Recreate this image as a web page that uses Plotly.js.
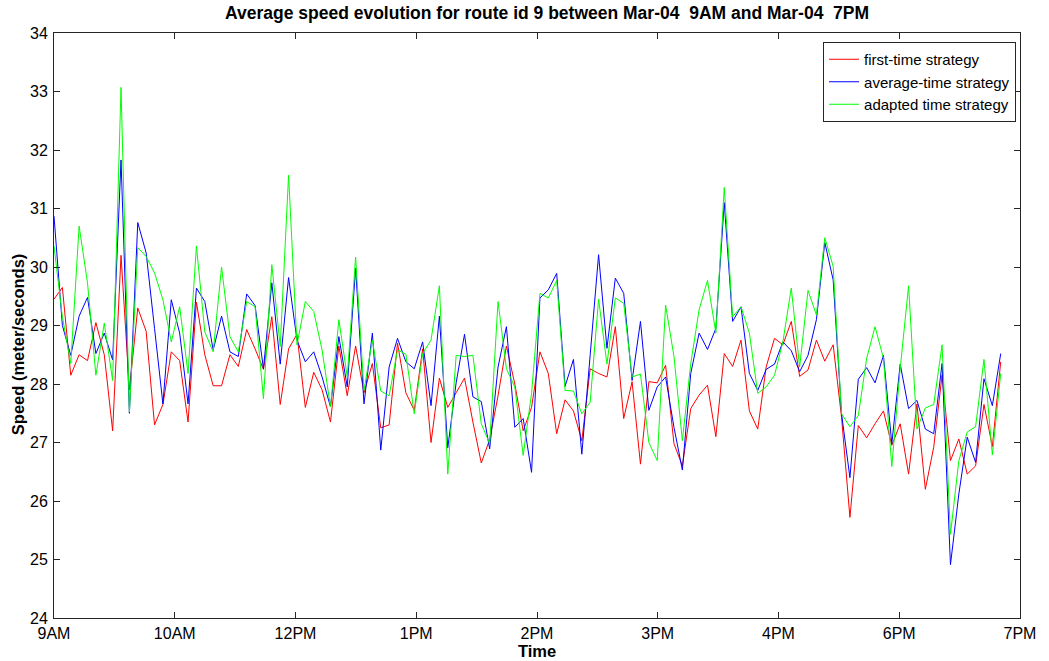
<!DOCTYPE html>
<html>
<head>
<meta charset="utf-8">
<script src="https://cdn.plot.ly/plotly-3.0.1.min.js"></script>
<style>
  html, body { margin: 0; padding: 0; background: #fff; }
  #chart { width: 1049px; height: 661px; }
</style>
</head>
<body>
<div id="chart"></div>
<script>
// ---- data ----
const tickLabels = ["9AM", "10AM", "12PM", "1PM", "2PM", "3PM", "4PM", "6PM", "7PM"];

const firstTime = [
  29.45, 29.65, 28.15, 28.5, 28.4, 29.05, 28.5, 27.2, 30.2, 27.9,
  29.3, 28.9, 27.3, 27.65, 28.55, 28.4, 27.35, 29.4, 28.5, 27.97,
  27.97, 28.5, 28.3, 28.93, 28.6, 28.25, 29.15, 27.65, 28.6, 28.85,
  27.6, 28.2, 27.9, 27.35, 28.65, 27.8, 28.65, 27.85, 28.35, 27.25,
  27.3, 28.7, 27.85, 27.55, 28.6, 27.0, 28.1, 27.6, 27.85, 28.1,
  27.35, 26.65, 27.05, 27.8, 28.65, 28.0, 27.2, 27.6, 28.55, 28.18,
  27.15, 27.73, 27.54, 27.03, 28.26, 28.18, 28.12, 28.98, 27.41, 28.04,
  26.63, 28.04, 28.02, 28.32, 26.98, 26.6, 27.58, 27.81, 27.98, 27.1,
  28.52, 28.3, 28.75, 27.54, 27.23, 28.29, 28.78, 28.67, 29.07, 28.13,
  28.24, 28.75, 28.39, 28.67, 27.43, 25.72, 27.29, 27.08, 27.32, 27.54,
  26.95, 27.32, 26.46, 27.66, 26.2, 26.92, 28.15, 26.69, 27.06, 26.46,
  26.6, 27.65, 26.93, 28.38
];

const averageTime = [
  30.87, 29.0, 28.49, 29.16, 29.48, 28.52, 28.87, 28.41, 31.83, 27.5,
  30.76, 30.24, 28.95, 27.66, 29.44, 28.87, 27.66, 29.64, 29.41, 28.58,
  29.16, 28.55, 28.47, 29.54, 29.34, 28.26, 29.73, 28.34, 29.82, 28.75,
  28.38, 28.55, 28.12, 27.61, 28.81, 27.95, 29.98, 27.66, 28.87, 26.87,
  28.29, 28.78, 28.38, 28.26, 28.72, 27.63, 29.16, 26.91, 28.02, 28.85,
  27.78, 27.7, 26.89, 28.29, 28.98, 27.26, 27.41, 26.49, 29.47, 29.61,
  29.89, 27.96, 28.42, 26.8, 28.5, 30.21, 28.61, 29.81, 29.55, 28.06,
  29.07, 27.55, 27.95, 28.12, 27.26, 26.53, 28.18, 28.87, 28.59, 28.95,
  31.1, 29.07, 29.32, 28.18, 27.89, 28.25, 28.34, 28.72, 28.57, 28.21,
  28.49, 29.1, 30.42, 29.78, 27.49, 26.4, 28.08, 28.28, 28.02, 28.49,
  26.98, 28.34, 27.58, 27.72, 27.23, 27.15, 28.35, 24.91, 26.12, 27.09,
  26.66, 28.09, 27.63, 28.52
];

const adaptedTime = [
  30.36, 29.15, 28.35, 30.7, 29.73, 28.15, 29.04, 28.06, 33.07, 27.52,
  30.33, 30.18, 29.9, 29.44, 28.72, 29.32, 28.18, 30.36, 28.89, 28.55,
  30.0, 28.81, 28.55, 29.41, 29.32, 27.75, 30.04, 28.64, 31.57, 28.67,
  29.41, 29.24, 28.58, 27.61, 29.1, 28.12, 30.17, 27.89, 28.75, 27.88,
  27.8, 28.58, 28.51, 27.49, 28.52, 28.75, 29.68, 26.46, 28.49, 28.47,
  28.49, 27.32, 26.98, 29.41, 28.26, 27.95, 26.78, 27.84, 29.55, 29.47,
  29.77, 27.89, 27.88, 27.49, 27.69, 29.45, 28.34, 29.47, 29.38, 28.12,
  28.17, 27.0, 26.69, 29.35, 28.47, 27.03, 28.35, 29.27, 29.77, 28.87,
  31.36, 29.15, 29.32, 28.87, 27.84, 27.95, 28.15, 28.72, 29.64, 28.29,
  29.6, 29.18, 30.5, 30.01, 27.49, 27.27, 27.46, 28.44, 28.98, 28.44,
  26.59, 28.26, 29.68, 27.23, 27.59, 27.65, 28.67, 25.43, 26.69, 27.18,
  27.27, 28.42, 26.79, 28.18
];

const seriesNames = ["first-time strategy", "average-time strategy", "adapted time strategy"];
const seriesColors = ["#ff0000", "#0000ff", "#00ff00"];

// ---- build chart ----
const xIdx = firstTime.map((_, i) => i);
const xMax = 115.3;
const tickVals = tickLabels.map((_, k) => k * xMax / (tickLabels.length - 1));

const traces = [firstTime, averageTime, adaptedTime].map((ys, k) => ({
  x: xIdx,
  y: ys,
  type: "scatter",
  mode: "lines",
  name: seriesNames[k],
  line: { color: seriesColors[k], width: 1 }
}));

const FONT = "Liberation Sans, Arial, sans-serif";

const axisCommon = {
  showgrid: false,
  zeroline: false,
  showline: true,
  linecolor: "#262626",
  linewidth: 1,
  mirror: "ticks",
  ticks: "inside",
  ticklen: 6,
  tickcolor: "#262626",
  tickfont: { family: FONT, size: 16, color: "#000" }
};

const layout = {
  width: 1049,
  height: 661,
  margin: { l: 54, r: 29, t: 33, b: 43 },
  paper_bgcolor: "#fff",
  plot_bgcolor: "#fff",
  showlegend: true,
  title: {
    text: "<b>Average speed evolution for route id 9 between Mar-04 \u00a09AM and Mar-04 \u00a07PM</b>",
    font: { family: FONT, size: 17.5, color: "#000" },
    x: 0.5104, xref: "paper", xanchor: "center",
    y: 0.981, yref: "container", yanchor: "middle"
  },
  xaxis: Object.assign({}, axisCommon, {
    range: [0, xMax],
    tickvals: tickVals,
    ticktext: tickLabels,
    ticklabelstandoff: 1,
    title: { text: "<b>Time</b>", font: { family: FONT, size: 16.5, color: "#000" }, standoff: 0 }
  }),
  yaxis: Object.assign({}, axisCommon, {
    range: [24, 34],
    dtick: 1,
    tick0: 24,
    ticklabelstandoff: 2
  }),
  annotations: [{
    text: "<b>Speed (meter/seconds)</b>",
    font: { family: FONT, size: 16.5, color: "#000" },
    textangle: -90,
    xref: "paper", yref: "paper",
    x: -0.0373, y: 0.468,
    xanchor: "center", yanchor: "middle",
    showarrow: false
  }],
  legend: {
    x: 0.9959, xanchor: "right",
    y: 0.9846, yanchor: "top",
    bgcolor: "#fff",
    bordercolor: "#262626",
    borderwidth: 1,
    font: { family: FONT, size: 15, color: "#000" },
    tracegroupgap: 0
  }
};

Plotly.newPlot("chart", traces, layout, { displayModeBar: false, staticPlot: true });
</script>
</body>
</html>
